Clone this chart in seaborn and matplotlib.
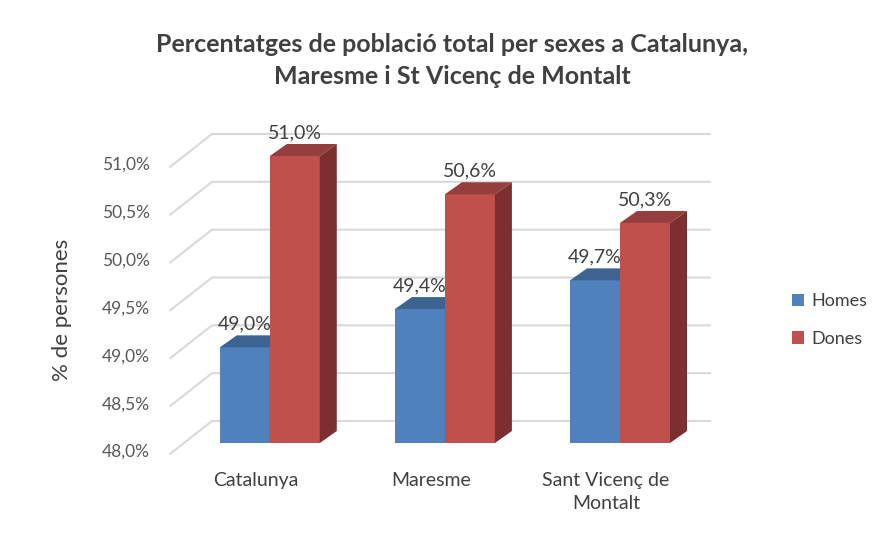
import matplotlib.pyplot as plt
import seaborn as sns
import pandas as pd
from matplotlib.patches import Polygon

llocs = ['Catalunya', 'Maresme', 'Sant Vicenç de\nMontalt']
sexes = ['Homes', 'Dones']
homes = [49.0, 49.4, 49.7]
dones = [51.0, 50.6, 50.3]
yticks = [48.0, 48.5, 49.0, 49.5, 50.0, 50.5, 51.0]

colors = {'Homes': '#4f81bd', 'Dones': '#c0504d'}
tops = {'Homes': '#3d6491', 'Dones': '#943f3d'}
sides = {'Homes': '#335580', 'Dones': '#7b2f2e'}

df = pd.DataFrame({
    'lloc': llocs * 2,
    'sexe': ['Homes'] * 3 + ['Dones'] * 3,
    'pct': homes + dones,
})

sns.set_theme(style='white')
plt.rcParams['font.family'] = ['Lato', 'DejaVu Sans']

fig = plt.figure(figsize=(8.82, 5.34), dpi=100)
ax = fig.add_axes([184 / 882, 91 / 534, 498 / 882, 287 / 534])
sns.barplot(data=df, x='lloc', y='pct', hue='sexe', hue_order=sexes,
            palette=colors, width=0.571, saturation=1, linewidth=0, ax=ax)

x0, x1 = -0.49, 2.354
ax.set_xlim(x0, x1)
ax.set_ylim(48, 51)
sx = 498 / (x1 - x0)   # pixels per category unit
sy = 287 / 3           # pixels per percent

# fake 3D: back wall gridlines + diagonals to the front plane
for y in yticks:
    ax.plot([x0 - 14 / sx, x0 + 28 / sx, x1 + 28 / sx],
            [y - 11 / sy, y + 22 / sy, y + 22 / sy],
            color='#d9d9d9', lw=1.5, clip_on=False, zorder=1)
    ax.text(x0 - 34 / sx, y - 9 / sy, f'{y:.1f}%'.replace('.', ','),
            ha='right', va='center', fontsize=12.5, color='#595959')

dx, dy = 17 / sx, 12 / sy
for k, (cont, sexe) in enumerate(zip(ax.containers, sexes)):
    for bar in cont:
        bx, w, h = bar.get_x(), bar.get_width(), bar.get_height()
        bar.set_zorder(3 + k)
        ax.add_patch(Polygon([(bx, h), (bx + w, h), (bx + w + dx, h + dy), (bx + dx, h + dy)],
                             closed=True, fc=tops[sexe], ec='none', zorder=3 + k, clip_on=False))
        ax.add_patch(Polygon([(bx + w, 48), (bx + w, h), (bx + w + dx, h + dy), (bx + w + dx, 48 + dy)],
                             closed=True, fc=sides[sexe], ec='none', zorder=3 + k, clip_on=False))
        ax.text(bx + w / 2, h + 23 / sy, f'{h:.1f}%'.replace('.', ','),
                ha='center', va='center', fontsize=14, color='#404040', zorder=6)

for i, lloc in enumerate(llocs):
    ax.text(i - 14 / sx, 48 - 29 / sy, lloc, ha='center', va='top',
            fontsize=14, color='#404040', linespacing=1.45)

for s in ax.spines.values():
    s.set_visible(False)
ax.tick_params(length=0, labelleft=False, labelbottom=False)
ax.set_xlabel('')
ax.set_ylabel('% de persones', fontsize=16, color='#404040')
ax.yaxis.set_label_coords(-0.225, 0.463)

handles, labels = ax.get_legend_handles_labels()
ax.legend(handles, labels, loc='center left', bbox_to_anchor=(776 / 882, 1 - 320 / 534),
          bbox_transform=fig.transFigure, frameon=False, fontsize=13,
          handlelength=0.65, handleheight=0.65, handletextpad=0.4, labelspacing=1.2,
          labelcolor='#404040')

fig.text(0.513, 1 - 33 / 534,
         'Percentatges de població total per sexes a Catalunya,\nMaresme i St Vicenç de Montalt',
         ha='center', va='top', fontsize=18, fontweight='bold', color='#404040', linespacing=1.45)

fig.savefig('out.png', dpi=100)
